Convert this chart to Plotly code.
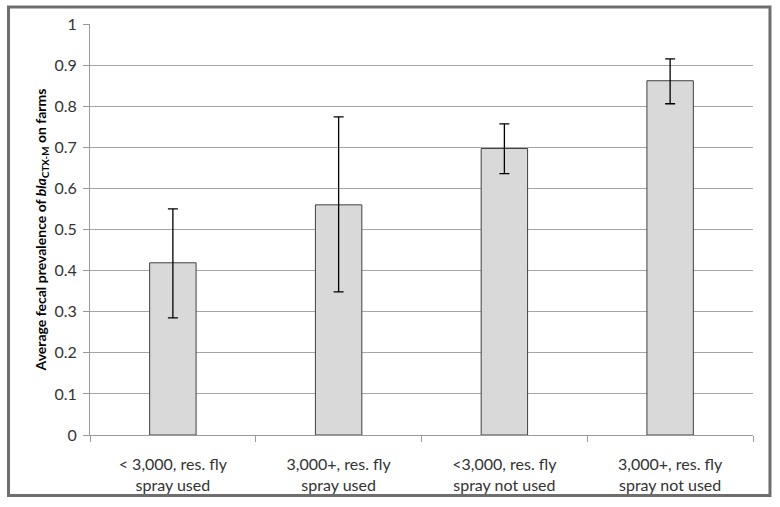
import plotly.graph_objects as go

categories = ["< 3,000, res. fly<br>spray used", "3,000+, res. fly<br>spray used",
              "<3,000, res. fly<br>spray not used", "3,000+, res. fly<br>spray not used"]
prevalence = [0.419, 0.560, 0.697, 0.862]
err_upper = [0.550, 0.774, 0.757, 0.915]
err_lower = [0.285, 0.348, 0.636, 0.806]
y_ticks = [0, 0.1, 0.2, 0.3, 0.4, 0.5, 0.6, 0.7, 0.8, 0.9, 1]
y_tick_labels = ["0", "0.1", "0.2", "0.3", "0.4", "0.5", "0.6", "0.7", "0.8", "0.9", "1"]

plus = [u - v for u, v in zip(err_upper, prevalence)]
minus = [v - l for v, l in zip(prevalence, err_lower)]

FONT = "Lato, 'Open Sans', sans-serif"

fig = go.Figure()
fig.add_trace(go.Bar(
    x=categories, y=prevalence,
    marker=dict(color="#d9d9d9", line=dict(color="#404040", width=1)),
    width=0.28,
    error_y=dict(type="data", symmetric=False, array=plus, arrayminus=minus,
                 color="black", thickness=1.3, width=5),
))

fig.update_layout(
    width=780, height=507,
    margin=dict(l=90, r=27, t=24, b=72),
    paper_bgcolor="white", plot_bgcolor="white",
    showlegend=False,
    font=dict(family=FONT, size=14, color="#333"),
    xaxis=dict(
        automargin=False,
        showline=True, linecolor="#9a9a9a", linewidth=1,
        ticks="outside", tickson="boundaries", ticklen=6, tickcolor="#9a9a9a",
        showgrid=False, tickfont=dict(size=16, family=FONT, color="#333"),
        ticklabelstandoff=15,
    ),
    yaxis=dict(
        automargin=False,
        range=[0, 1], tickvals=y_ticks, ticktext=y_tick_labels,
        showline=True, linecolor="#9a9a9a", linewidth=1,
        ticks="outside", ticklen=6, tickcolor="#9a9a9a",
        showgrid=True, gridcolor="#a6a6a6", gridwidth=1,
        zeroline=False, tickfont=dict(size=16, family=FONT, color="#333"),
        ticklabelstandoff=3,
        title=dict(text="<b>Average fecal prevalence of <i>bla</i><sub>CTX-M</sub> on farms</b>",
                   font=dict(size=14, family=FONT, color="black"), standoff=4),
    ),
    shapes=[dict(type="rect", xref="paper", yref="paper",
                 x0=-0.1229, x1=1.0256, y0=-0.147, y1=1.0413,
                 line=dict(color="#6e6e6e", width=3), fillcolor="rgba(0,0,0,0)", layer="above")],
)

fig.write_html("out.html", config={"displayModeBar": False},
               post_script="document.body.style.margin='0';")
